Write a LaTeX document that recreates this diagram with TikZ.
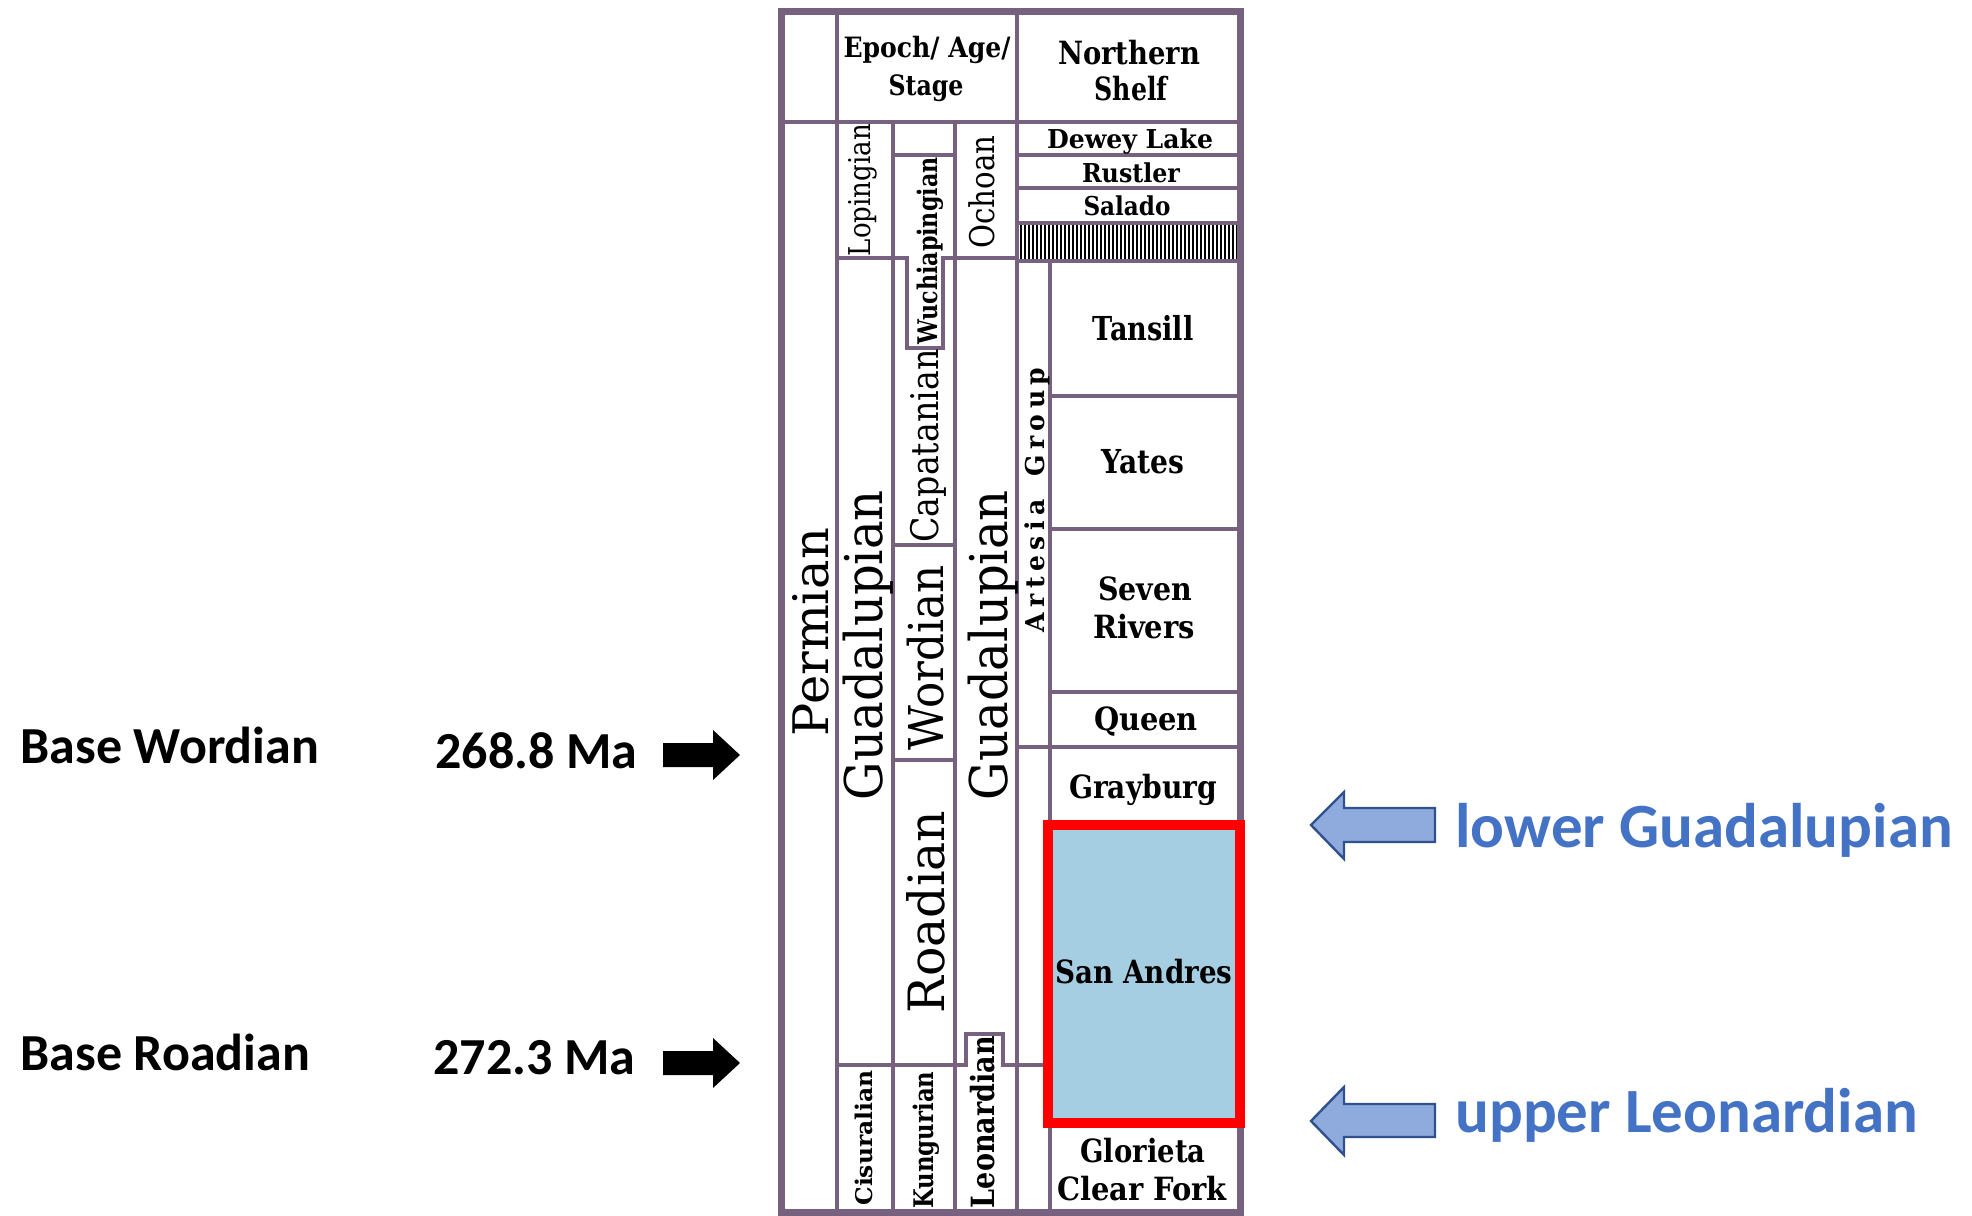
\documentclass[tikz,border=0pt]{standalone}
\usepackage{fontspec}
\newfontfamily\calib{Carlito}
\newfontfamily\tabf{DejaVu Serif}
\newdimen\px \px=0.5pt
% #1 font size (pt), #2 target length (px), #3 text
\newcommand\rtx[3]{\resizebox{#2\px}{\height}{\tabf\fontsize{#1pt}{#1pt}\selectfont #3}}
\newcommand\rtb[3]{\resizebox{#2\px}{\height}{\tabf\bfseries\fontsize{#1pt}{#1pt}\selectfont #3}}
\newcommand\ls{\kern.22em}
\definecolor{gridc}{RGB}{118,98,126}
\definecolor{sanfill}{RGB}{166,206,227}
\definecolor{txtblue}{RGB}{68,114,196}
\definecolor{arrfill}{RGB}{143,170,220}
\definecolor{arrline}{RGB}{47,82,143}
\begin{document}
\begin{tikzpicture}[x=0.5pt,y=-0.5pt,
  gridln/.style={draw=gridc, line width=2.2pt},
  rot/.style={rotate=90, anchor=base, inner sep=0pt},
  hl/.style={anchor=base, inner sep=0pt},
  lab/.style={anchor=base west, inner sep=0pt, font=\calib\bfseries\fontsize{26pt}{30pt}\selectfont},
  blab/.style={anchor=base west, inner sep=0pt, text=txtblue, font=\calib\bfseries\fontsize{31.5pt}{36pt}\selectfont},
  blkarrow/.style={fill=black},
  bluearrow/.style={fill=arrfill, draw=arrline, line width=1.2pt, line join=miter}]
\fill[white] (0,0) rectangle (1972,1216);
\useasboundingbox (0,0) rectangle (1972,1216);

% hatch band below Salado
\foreach \x in {1021,1025,...,1237} \draw[black, line width=1pt] (\x,225) -- (\x,259);

% table grid
\draw[gridln] (781,122) -- (1240,122);
\draw[gridln] (837,11) -- (837,1212);
\draw[gridln] (1017,11) -- (1017,1212);
\draw[gridln] (893,122) -- (893,1212);
\draw[gridln] (955,122) -- (955,1212);
\draw[gridln] (1050,261) -- (1050,1212);
\draw[gridln] (837,258) -- (893,258);
\draw[gridln] (837,1065) -- (966,1065) -- (966,1034) -- (1003,1034) -- (1003,1065) -- (1043,1065);
\draw[gridln] (893,155) -- (955,155);
\draw[gridln] (893,258) -- (907,258) -- (907,348) -- (943,348) -- (943,258) -- (1017,258);
\draw[gridln] (893,545) -- (955,545);
\draw[gridln] (893,760) -- (955,760);
\draw[gridln] (1017,155) -- (1240,155);
\draw[gridln] (1017,188) -- (1240,188);
\draw[gridln] (1017,223) -- (1240,223);
\draw[gridln] (1017,261) -- (1240,261);
\draw[gridln] (1050,396) -- (1240,396);
\draw[gridln] (1050,529) -- (1240,529);
\draw[gridln] (1050,692) -- (1240,692);
\draw[gridln] (1017,747) -- (1240,747);
\draw[draw=gridc, line width=3.5pt] (781,11) rectangle (1240,1212);

% highlighted San Andres
\draw[red, line width=5pt, fill=sanfill] (1048,825) rectangle (1240,1123);

% header texts
\node[hl] (epoch) at (927,57) {\rtb{14}{167}{Epoch/ Age/}};
\node[hl] (stage) at (926,95) {\rtb{14}{75}{Stage}};
\node[hl] (north) at (1129,64) {\rtb{16}{142}{Northern}};
\node[hl] (shelf) at (1131,100) {\rtb{16}{73}{Shelf}};

% formations
\node[hl] (dewey) at (1130,148) {\rtb{13}{166}{Dewey Lake}};
\node[hl] (rustler) at (1131,182) {\rtb{13}{98}{Rustler}};
\node[hl] (salado) at (1127,215) {\rtb{13}{87}{Salado}};
\node[hl] (tansill) at (1143,340) {\rtb{16.5}{101}{Tansill}};
\node[hl] (yates) at (1143,473) {\rtb{16.5}{83}{Yates}};
\node[hl] (seven) at (1145,600) {\rtb{16}{94}{Seven}};
\node[hl] (rivers) at (1144,638) {\rtb{16}{102}{Rivers}};
\node[hl] (queen) at (1146,730) {\rtb{16}{104}{Queen}};
\node[hl] (grayburg) at (1143,798) {\rtb{16}{148}{Grayburg}};
\node[hl] (sanandres) at (1144,983) {\rtb{16}{177}{San Andres}};
\node[hl] (glorieta) at (1143,1162) {\rtb{16}{125}{Glorieta}};
\node[hl] (clearfork) at (1142,1200) {\rtb{16}{170}{Clear Fork}};

% rotated chronostratigraphic labels
\node[rot] (permian) at (828,632) {\rtx{24.5}{208}{Permian}};
\node[rot] (guad1) at (882,645) {\rtx{26}{310}{Guadalupian}};
\node[rot] (guad2) at (1007,645) {\rtx{26}{310}{Guadalupian}};
\node[rot] (loping) at (870,190) {\rtx{15}{132}{Lopingian}};
\node[rot] (ochoan) at (994,192) {\rtx{17}{113}{Ochoan}};
\node[rot] (wuchia) at (937,251) {\rtb{13.5}{187}{Wuchiapingian}};
\node[rot] (capit) at (938,446) {\rtx{19}{193}{Capatanian}};
\node[rot] (wordian) at (943,658) {\rtx{24}{185}{Wordian}};
\node[rot] (roadian) at (944,912) {\rtx{25}{203}{Roadian}};
\node[rot] (leonard) at (994,1122) {\rtb{16}{172}{Leonardian}};
\node[rot] (cisur) at (872,1138) {\rtb{11.5}{135}{Cisuralian}};
\node[rot] (kungur) at (933,1140) {\rtb{13.5}{137}{Kungurian}};
\node[rot] (artesia) at (1044,500) {\rtb{13}{265}{A\ls r\ls t\ls e\ls s\ls i\ls a\kern.9em G\ls r\ls o\ls u\ls p}};

% left annotations
\node[lab] (bw) at (20,763) {Base Wordian};
\node[lab] (bwage) at (435,768) {268.8 Ma};
\node[lab] (br) at (20,1070) {Base Roadian};
\node[lab] (brage) at (433,1074) {272.3 Ma};
\fill[blkarrow] (663,743) -- (713,743) -- (713,730) -- (740,755) -- (713,780) -- (713,767) -- (663,767) -- cycle;
\fill[blkarrow] (663,1051) -- (713,1051) -- (713,1038) -- (740,1063) -- (713,1088) -- (713,1075) -- (663,1075) -- cycle;

% right annotations
\draw[bluearrow] (1311,825) -- (1344,792) -- (1344,808) -- (1435,808) -- (1435,842) -- (1344,842) -- (1344,859) -- cycle;
\draw[bluearrow] (1311,1121) -- (1344,1087) -- (1344,1104) -- (1435,1104) -- (1435,1137) -- (1344,1137) -- (1344,1155) -- cycle;
\node[blab] (lg) at (1455,847) {lower Guadalupian};
\node[blab] (ul) at (1455,1132) {upper Leonardian};
\end{tikzpicture}
\end{document}
